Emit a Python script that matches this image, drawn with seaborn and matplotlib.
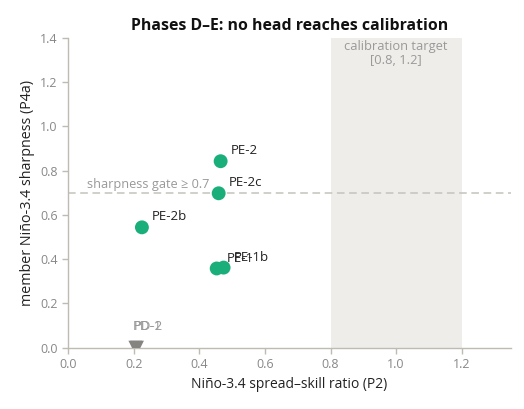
import matplotlib
matplotlib.use("Agg")
import matplotlib.pyplot as plt
import seaborn as sns
import pandas as pd

names = ["PE-2", "PE-2c", "PE-2b", "PE-1", "PE-1b", "PD-1", "PD-2"]
spread_skill = [0.465, 0.459, 0.225, 0.453, 0.474, 0.205, 0.210]
sharpness = [0.843, 0.698, 0.544, 0.358, 0.362, 0.0, 0.0]
phase = ["E", "E", "E", "E", "E", "D", "D"]

df = pd.DataFrame({"name": names, "x": spread_skill, "y": sharpness, "phase": phase})

sns.set_theme(style="white")
plt.rcParams["font.family"] = ["Open Sans", "DejaVu Sans"]

fig, ax = plt.subplots(figsize=(5.24, 4.09), dpi=100)

ax.axvspan(0.8, 1.2, color="#efede9", zorder=0, lw=0)
ax.axhline(0.7, color="#c4c3bc", ls=(0, (5, 3)), lw=1.1, zorder=1)

green = "#1aaf7a"
grey = "#858480"
sns.scatterplot(data=df[df.phase == "E"], x="x", y="y", color=green, s=100,
                edgecolor="none", ax=ax, zorder=3)
sns.scatterplot(data=df[df.phase == "D"], x="x", y="y", color=grey, marker="v", s=100,
                edgecolor="none", ax=ax, zorder=3)

for _, r in df.iterrows():
    if r.phase == "E":
        ax.annotate(r["name"], (r.x, r.y), xytext=(7, 5), textcoords="offset points",
                    fontsize=9.5, color="#222222")
    else:
        ax.annotate(r["name"], (r.x, r.y), xytext=(-2, 13), textcoords="offset points",
                    fontsize=9.5, color="#999999")

ax.text(1.0, 1.39, "calibration target\n[0.8, 1.2]", ha="center", va="top",
        fontsize=9.3, color="#999999", linespacing=1.05)
ax.text(0.058, 0.708, "sharpness gate \u2265 0.7", ha="left", va="bottom",
        fontsize=9.2, color="#999999")

ax.set_xlim(0, 1.35)
ax.set_ylim(0, 1.4)
ax.set_xticks([0, 0.2, 0.4, 0.6, 0.8, 1.0, 1.2])
ax.set_yticks([0, 0.2, 0.4, 0.6, 0.8, 1.0, 1.2, 1.4])
ax.set_xticklabels([f"{v:.1f}" for v in ax.get_xticks()])
ax.set_yticklabels([f"{v:.1f}" for v in ax.get_yticks()])
ax.set_xlabel("Niño-3.4 spread\u2013skill ratio (P2)", fontsize=10, color="#222222")
ax.set_ylabel("member Niño-3.4 sharpness (P4a)", fontsize=10.3, color="#222222")
ax.set_title("Phases D\u2013E: no head reaches calibration", fontsize=11.4,
             fontweight="bold", color="#111111")

for s in ["top", "right"]:
    ax.spines[s].set_visible(False)
for s in ["left", "bottom"]:
    ax.spines[s].set_color("#bdbbb2")
    ax.spines[s].set_linewidth(1.0)
ax.tick_params(axis="both", colors="#bdbbb2", labelcolor="#888888", labelsize=9,
               length=4, width=1, bottom=True, left=True)

fig.subplots_adjust(left=0.13, right=0.975, bottom=0.15, top=0.907)
fig.savefig("out.png", dpi=100)
